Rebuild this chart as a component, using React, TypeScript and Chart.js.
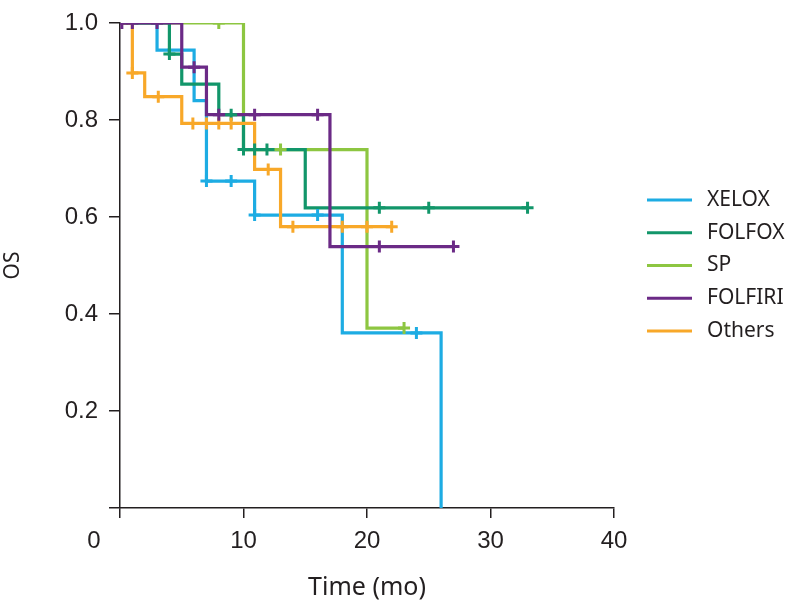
import { useEffect, useRef } from 'react';
import { Chart, registerables } from 'chart.js';

Chart.register(...registerables);

// ---- data ----
const seriesNames = ['XELOX', 'FOLFOX', 'SP', 'FOLFIRI', 'Others'];
const seriesColors = ['#1DACE3', '#12966A', '#8DC641', '#6B2A86', '#F8A829'];

// XELOX
const xeloxEventTimes = [3, 6, 7, 10.9, 18, 26];
const xeloxSurvival = [0.944, 0.84, 0.674, 0.604, 0.361, 0];
const xeloxCensored = [7, 9, 10.9, 16, 24];
const xeloxLastTime = 26;

// FOLFOX
const folfoxEventTimes = [4, 5, 8, 10, 15];
const folfoxSurvival = [0.936, 0.874, 0.811, 0.739, 0.619];
const folfoxCensored = [4, 9, 10, 10.9, 11.9, 21, 25, 33];
const folfoxLastTime = 33;

// SP
const spEventTimes = [10, 20];
const spSurvival = [0.739, 0.371];
const spCensored = [8, 13, 23];
const spLastTime = 23;

// FOLFIRI
const folfiriEventTimes = [5, 7, 17];
const folfiriSurvival = [0.909, 0.811, 0.539];
const folfiriCensored = [0.15, 1, 3, 6, 8, 10.9, 16, 21, 27];
const folfiriLastTime = 27;

// Others
const othersEventTimes = [1, 2, 5, 10.9, 13];
const othersSurvival = [0.897, 0.848, 0.793, 0.698, 0.58];
const othersCensored = [1, 3.1, 5.9, 7, 8, 9, 12, 14, 18, 20, 22];
const othersLastTime = 22;

const xTickValues = [0, 10, 20, 30, 40];
const yTickValues = [0, 0.2, 0.4, 0.6, 0.8, 1.0];
const xAxisTitle = 'Time (mo)';
const yAxisTitle = 'OS';
const originLabel = '0';

// draw order (lower = on top)
const lineOrder = [5, 3, 4, 1, 2];

const INK = '#231F20';
const X_TICK_PAD = 11;

type Pt = { x: number; y: number };

function stepPoints(times: number[], surv: number[], last: number): Pt[] {
  const pts: Pt[] = [{ x: 0, y: 1 }];
  let prev = 1;
  times.forEach((t, i) => {
    pts.push({ x: t, y: prev });
    pts.push({ x: t, y: surv[i] });
    prev = surv[i];
  });
  if (last > times[times.length - 1]) pts.push({ x: last, y: prev });
  return pts;
}

function levelAt(times: number[], surv: number[], t: number): number {
  let v = 1;
  times.forEach((tt, i) => {
    if (tt <= t) v = surv[i];
  });
  return v;
}

const allSeries = [
  { times: xeloxEventTimes, surv: xeloxSurvival, cens: xeloxCensored, last: xeloxLastTime },
  { times: folfoxEventTimes, surv: folfoxSurvival, cens: folfoxCensored, last: folfoxLastTime },
  { times: spEventTimes, surv: spSurvival, cens: spCensored, last: spLastTime },
  { times: folfiriEventTimes, surv: folfiriSurvival, cens: folfiriCensored, last: folfiriLastTime },
  { times: othersEventTimes, surv: othersSurvival, cens: othersCensored, last: othersLastTime },
];

const legendPlugin = {
  id: 'kmLegend',
  afterDraw(chart: any) {
    const { ctx, chartArea } = chart;
    const cy = (chartArea.top + chartArea.bottom) / 2;
    ctx.save();
    ctx.font = '21px "Noto Sans"';
    ctx.textBaseline = 'middle';
    ctx.textAlign = 'left';
    seriesNames.forEach((name, i) => {
      const y = cy + (i - 2) * 32.75;
      ctx.strokeStyle = seriesColors[i];
      ctx.lineWidth = 3;
      ctx.beginPath();
      ctx.moveTo(chartArea.right + 33, y);
      ctx.lineTo(chartArea.right + 78, y);
      ctx.stroke();
      ctx.fillStyle = INK;
      ctx.fillText(name, chartArea.right + 93, y);
    });
    ctx.restore();
  },
};

const originPlugin = {
  id: 'originLabel',
  afterDraw(chart: any) {
    const { ctx, chartArea, scales } = chart;
    const x = scales.x.getPixelForValue(0) - 26;
    const y = chartArea.bottom + 10 + X_TICK_PAD + 12;
    ctx.save();
    ctx.font = '24px "Liberation Sans"';
    ctx.fillStyle = INK;
    ctx.textAlign = 'center';
    ctx.textBaseline = 'middle';
    ctx.fillText(originLabel, x, y);
    ctx.restore();
  },
};

export default function App() {
  const ref = useRef<HTMLCanvasElement>(null);

  useEffect(() => {
    const lineSets = allSeries.map((s, i) => ({
      type: 'line' as const,
      label: seriesNames[i],
      data: stepPoints(s.times, s.surv, s.last),
      borderColor: seriesColors[i],
      backgroundColor: seriesColors[i],
      borderWidth: 3.2,
      pointRadius: 0,
      tension: 0,
      fill: false,
      borderCapStyle: 'butt' as const,
      borderJoinStyle: 'miter' as const,
      order: lineOrder[i] + 10,
    }));
    const censorSets = allSeries.map((s, i) => ({
      type: 'line' as const,
      label: seriesNames[i] + ' censored',
      data: s.cens.map((t) => ({ x: t, y: levelAt(s.times, s.surv, t) })),
      showLine: false,
      borderColor: seriesColors[i],
      backgroundColor: seriesColors[i],
      pointStyle: 'cross' as const,
      pointRadius: 6,
      pointBorderWidth: 3,
      pointBorderColor: seriesColors[i],
      pointHoverRadius: 6,
      order: lineOrder[i],
    }));

    const chart = new Chart(ref.current!, {
      type: 'line',
      data: { datasets: [...lineSets, ...censorSets] as any },
      plugins: [legendPlugin, originPlugin],
      options: {
        animation: false,
        responsive: true,
        maintainAspectRatio: false,
        layout: { padding: { left: 0, top: 14, right: 175, bottom: 3 } },
        plugins: {
          legend: { display: false },
          tooltip: { enabled: false },
        },
        scales: {
          x: {
            type: 'linear',
            min: 0,
            max: 40,
            afterBuildTicks: (scale: any) => {
              scale.ticks = xTickValues.map((v) => ({ value: v }));
            },
            afterFit: (scale: any) => {
              scale.height = 95;
            },
            ticks: {
              color: INK,
              padding: X_TICK_PAD,
              maxRotation: 0,
              font: { family: 'Liberation Sans', size: 24, lineHeight: 1 },
              callback: (v: any) => (v === 0 ? '' : String(v)),
            },
            grid: {
              drawOnChartArea: false,
              drawTicks: true,
              tickLength: 10,
              color: INK,
              lineWidth: 1.5,
            },
            border: { display: true, color: INK, width: 1.5 },
            title: {
              display: true,
              text: xAxisTitle,
              color: INK,
              font: { family: 'Noto Sans', size: 25, lineHeight: 1.2 },
              padding: { top: 0, bottom: 0 },
            },
          },
          y: {
            type: 'linear',
            min: 0,
            max: 1,
            afterBuildTicks: (scale: any) => {
              scale.ticks = yTickValues.map((v) => ({ value: v }));
            },
            afterFit: (scale: any) => {
              scale.width = 120;
            },
            ticks: {
              color: INK,
              padding: 11,
              font: { family: 'Liberation Sans', size: 24, lineHeight: 1 },
              callback: (v: any) => (v === 0 ? '' : Number(v).toFixed(1)),
            },
            grid: {
              drawOnChartArea: false,
              drawTicks: true,
              tickLength: 11,
              color: INK,
              lineWidth: 1.5,
            },
            border: { display: true, color: INK, width: 1.5 },
            title: {
              display: true,
              text: yAxisTitle,
              color: INK,
              font: { family: 'Noto Sans', size: 21, lineHeight: 1.2 },
              padding: { top: 0, bottom: 0 },
            },
          },
        },
      },
    });
    return () => chart.destroy();
  }, []);

  return (
    <div style={{ position: 'absolute', left: 0, top: 0, width: 789, height: 606, background: '#fff' }}>
      <canvas ref={ref} />
    </div>
  );
}
